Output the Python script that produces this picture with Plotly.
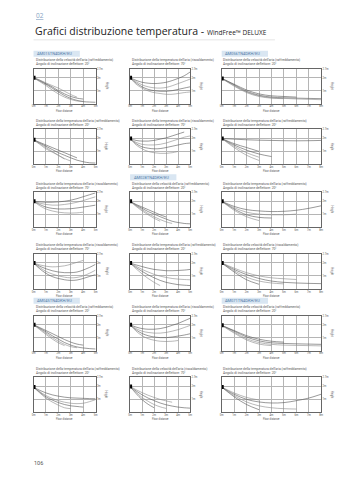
import plotly.graph_objects as go

W, H = 339, 480

# ---------------- data ----------------
X5 = [0, 0.5, 1, 1.5, 2, 2.5, 3, 3.5, 4, 4.5, 5]
X8 = [0, 1, 2, 3, 4, 5, 6, 7, 8]
N = None

TITLE_VEL_COOL = ["Distribuzione della velocità dell'aria (raffreddamento)", "Angolo di inclinazione deflettore: 20°"]
TITLE_TMP_COOL = ["Distribuzione della temperatura dell'aria (raffreddamento)", "Angolo di inclinazione deflettore: 20°"]
TITLE_VEL_HEAT = ["Distribuzione della velocità dell'aria (riscaldamento)", "Angolo di inclinazione deflettore: 70°"]
TITLE_TMP_HEAT = ["Distribuzione della temperatura dell'aria (riscaldamento)", "Angolo di inclinazione deflettore: 70°"]

CHART_TITLES = [
    TITLE_VEL_COOL, TITLE_TMP_HEAT, TITLE_VEL_COOL,
    TITLE_TMP_COOL, TITLE_TMP_HEAT, TITLE_TMP_COOL,
    TITLE_TMP_HEAT, TITLE_VEL_COOL, TITLE_TMP_COOL,
    TITLE_TMP_HEAT, TITLE_TMP_COOL, TITLE_VEL_HEAT,
    TITLE_VEL_COOL, TITLE_TMP_HEAT, TITLE_VEL_COOL,
    TITLE_TMP_COOL, TITLE_VEL_HEAT, TITLE_TMP_COOL,
]
MODEL_LABELS = {0: "AM015TN4DKH/EU", 2: "AM056TN4DKH/EU", 7: "AM028TN4DKH/EU",
                12: "AM045TN4DKH/EU", 14: "AM071TN4DKH/EU"}

OUTLET_Y = [2.0, 2.0, 1.95, 1.9, 2.0, 2.0, 2.0, 2.0, 2.0,
            2.0, 2.0, 2.0, 2.0, 2.0, 1.95, 1.95, 2.0, 1.95]

C01 = [[2.0, 1.75, 1.5, 1.2, 0.9, 0.62, 0.4, 0.25, 0.15, 0.12, 0.1],
       [2.0, 1.7, 1.4, 1.05, 0.75, 0.5, 0.32, 0.2, 0.18, N, N],
       [2.0, 1.8, 1.55, 1.3, 1.0, 0.75, 0.55, 0.42, 0.35, N, N],
       [2.0, 1.82, 1.6, 1.4, 1.2, 0.95, 0.7, 0.5, N, N, N]]
C02 = [[2.0, 1.8, 1.65, 1.58, 1.55, 1.58, 1.65, 1.78, 1.95, 2.15, 2.45],
       [2.0, 1.7, 1.45, 1.3, 1.22, 1.2, 1.25, 1.38, 1.55, 1.72, 1.9],
       [2.0, 1.6, 1.3, 1.1, 1.0, 0.95, 0.95, 1.0, 1.1, 1.2, 1.3],
       [2.0, 1.5, 1.2, 0.98, 0.85, 0.78, 0.72, 0.72, 0.78, 0.85, 0.9]]
C03 = [[1.95, 1.45, 0.95, 0.65, 0.5, 0.45, 0.42, 0.4, 0.38],
       [1.95, 1.4, 0.9, 0.6, 0.45, 0.4, 0.36, 0.33, 0.3],
       [1.95, 1.5, 1.05, 0.75, 0.6, 0.55, 0.5, N, N],
       [1.95, 1.35, 0.85, 0.55, 0.42, 0.38, N, N, N]]
C04 = [[1.9, 1.65, 1.4, 1.15, 0.9, 0.7, 0.5, 0.32, 0.2, 0.12, 0.1],
       [1.9, 1.55, 1.2, 0.95, 0.7, 0.45, 0.25, N, N, N, N],
       [1.9, 1.7, 1.5, 1.3, 1.1, 0.9, 0.7, 0.5, N, N, N],
       [1.9, 1.6, 1.3, 1.0, 0.7, 0.4, N, N, N, N, N]]
C05 = [[2.0, 1.85, 1.8, 1.8, 1.85, 1.95, 2.05, 2.2, 2.35, 2.5, N],
       [2.0, 1.7, 1.55, 1.5, 1.5, 1.55, 1.65, 1.8, 1.95, 2.1, 2.2],
       [2.0, 1.6, 1.35, 1.25, 1.2, 1.22, 1.3, 1.4, 1.5, 1.6, 1.65],
       [2.0, 1.5, 1.2, 1.0, 0.9, 0.85, 0.85, 0.9, 1.0, N, N]]
C06 = [[2.0, 1.95, 1.9, 1.87, 1.85, 1.83, 1.82, 1.83, 1.85],
       [2.0, 1.4, 0.9, 0.55, N, N, N, N, N],
       [2.0, 1.5, 1.1, 0.8, 0.6, N, N, N, N],
       [2.0, 1.3, 0.7, 0.3, N, N, N, N, N],
       [2.0, 1.6, 1.3, 1.0, N, N, N, N, N]]
C07 = [[2.0, 1.95, 1.92, 1.92, 1.95, 2.0, 2.08, 2.2, 2.35, 2.5, 2.65],
       [2.0, 1.85, 1.75, 1.7, 1.7, 1.75, 1.82, 1.92, 2.05, 2.2, 2.35],
       [2.0, 1.75, 1.55, 1.45, 1.4, 1.4, 1.42, 1.48, 1.55, 1.62, 1.7],
       [2.0, 1.65, 1.4, 1.25, 1.15, 1.1, 1.08, 1.1, 1.15, N, N]]
C08 = [[2.0, 1.7, 1.45, 1.2, 1.0, 0.8, 0.62, 0.45, 0.35, 0.28, 0.25],
       [2.0, 1.65, 1.35, 1.05, 0.8, 0.58, 0.4, 0.28, N, N, N],
       [2.0, 1.75, 1.55, 1.35, 1.15, 0.95, 0.78, N, N, N, N],
       [2.0, 1.6, 1.25, 0.95, 0.68, 0.45, N, N, N, N, N]]
C09 = [[2.0, 1.6, 1.35, 1.25, 1.2, 1.22, 1.3, 1.45, 1.65],
       [2.0, 1.5, 1.15, 1.0, 0.95, 0.95, 1.0, N, N],
       [2.0, 1.4, 0.95, 0.75, 0.7, N, N, N, N],
       [2.0, 1.3, 0.8, 0.5, N, N, N, N, N]]
C10 = [[2.0, 1.75, 1.55, 1.4, 1.3, 1.25, 1.25, 1.3, 1.45, 1.65, 1.9],
       [2.0, 1.65, 1.35, 1.15, 1.0, 0.9, 0.85, 0.88, 1.0, 1.2, 1.45],
       [2.0, 1.55, 1.2, 0.95, 0.8, 0.7, 0.65, 0.68, 0.8, 0.95, 1.1],
       [2.0, 1.85, 1.75, 1.7, 1.72, 1.78, 1.9, 2.05, 2.2, N, N]]
C11 = [[2.0, 1.85, 1.72, 1.6, 1.5, 1.45, 1.4, 1.4, 1.42, 1.45, 1.5],
       [2.0, 1.75, 1.5, 1.3, 1.12, 0.98, 0.88, 0.8, 0.75, 0.72, 0.7],
       [2.0, 1.65, 1.35, 1.08, 0.85, 0.65, 0.5, 0.4, 0.32, 0.28, 0.25],
       [2.0, 1.55, 1.15, 0.8, 0.5, 0.25, N, N, N, N, N]]
C12 = [[2.0, 1.5, 1.1, 0.8, 0.6, 0.5, 0.45, 0.42, 0.4],
       [2.0, 1.4, 0.9, 0.6, 0.45, 0.38, N, N, N],
       [2.0, 1.3, 0.7, 0.35, N, N, N, N, N],
       [2.0, 1.6, 1.25, 1.0, 0.85, 0.78, 0.72, N, N]]
C13 = [[2.0, 1.72, 1.45, 1.15, 0.88, 0.62, 0.42, 0.28, 0.2, 0.15, 0.12],
       [2.0, 1.68, 1.35, 1.02, 0.72, 0.48, 0.3, 0.22, N, N, N],
       [2.0, 1.78, 1.55, 1.32, 1.08, 0.85, 0.65, 0.5, 0.42, N, N],
       [2.0, 1.62, 1.25, 0.9, 0.6, 0.38, N, N, N, N, N]]
C14 = [[2.0, 1.82, 1.7, 1.65, 1.65, 1.7, 1.8, 1.95, 2.1, 2.3, 2.5],
       [2.0, 1.7, 1.5, 1.4, 1.35, 1.35, 1.4, 1.5, 1.62, 1.78, 1.95],
       [2.0, 1.6, 1.32, 1.15, 1.05, 1.0, 1.0, 1.05, 1.12, 1.2, 1.3],
       [2.0, 1.5, 1.15, 0.92, 0.8, 0.72, 0.7, 0.72, 0.78, N, N]]
C15 = [[1.95, 1.5, 1.05, 0.75, 0.6, 0.55, 0.52, 0.5, 0.48],
       [1.95, 1.42, 0.92, 0.62, 0.48, 0.42, 0.4, 0.38, 0.36],
       [1.95, 1.55, 1.15, 0.88, 0.72, 0.65, N, N, N],
       [1.95, 1.35, 0.82, 0.5, 0.38, N, N, N, N]]
C16 = [[1.95, 1.7, 1.5, 1.35, 1.25, 1.17, 1.12, 1.1, 1.08, 1.06, 1.05],
       [1.95, 1.6, 1.3, 1.08, 0.9, 0.78, 0.7, 0.67, 0.7, 0.82, 0.98],
       [1.95, 1.55, 1.2, 0.95, 0.75, 0.6, 0.5, 0.45, 0.4, N, N],
       [1.95, 1.5, 1.1, 0.8, 0.55, 0.35, 0.28, N, N, N, N]]
C17 = [[2.0, 1.65, 1.35, 1.1, 0.9, 0.72, 0.58, 0.48, 0.4, 0.35, 0.32],
       [2.0, 1.55, 1.15, 0.85, 0.6, 0.42, 0.3, N, N, N, N],
       [2.0, 1.45, 0.98, 0.62, 0.35, N, N, N, N, N, N],
       [2.0, 1.75, 1.52, 1.32, 1.15, 1.0, 0.88, 0.78, N, N, N]]
C18 = [[1.95, 1.4, 1.0, 0.8, 0.72, 0.75, 0.9, 1.1, 1.4],
       [1.95, 1.3, 0.8, 0.5, 0.35, 0.28, 0.25, N, N],
       [1.95, 1.2, 0.6, 0.2, N, N, N, N, N],
       [1.95, 1.5, 1.15, 0.95, N, N, N, N, N]]

CURVES = [C01, C02, C03, C04, C05, C06, C07, C08, C09,
          C10, C11, C12, C13, C14, C15, C16, C17, C18]

X_TICKS5 = ["0m", "1m", "2m", "3m", "4m", "5m"]
X_TICKS8 = ["0m", "1m", "2m", "3m", "4m", "5m", "6m", "7m", "8m"]
Y_TICKVALS = [1, 2, 2.7]
Y_TICKTEXT = ["1m", "2m", "2.7m"]

# ---------------- layout geometry (pixels) ----------------
COLS = [(32, 95), (130, 191), (223, 324)]
ROW_TOPS = [67, 128, 191, 253, 315, 377]
PH = 35


def px(x):
    return x / W


def py(y):
    return 1 - y / H


fig = go.Figure()
annotations = []
shapes = []
FONT = "Roboto"

for i in range(18):
    r, c = divmod(i, 3)
    x0, x1 = COLS[c]
    y0 = ROW_TOPS[r]
    y1 = y0 + PH
    n = i + 1
    xs = "" if n == 1 else str(n)
    is8 = (c == 2)
    X = X8 if is8 else X5
    xmax = 8 if is8 else 5

    for k, ys in enumerate(CURVES[i]):
        fig.add_trace(go.Scatter(
            x=X, y=ys, mode="lines", xaxis="x" + xs, yaxis="y" + xs,
            line=dict(color="#555555" if k % 2 == 0 else "#8a8a8a", width=0.6, shape="spline"),
            connectgaps=False, showlegend=False, hoverinfo="skip"))
    fig.add_trace(go.Scatter(
        x=[0], y=[OUTLET_Y[i]], mode="markers", xaxis="x" + xs, yaxis="y" + xs,
        marker=dict(symbol="square", size=4, color="black"),
        showlegend=False, hoverinfo="skip"))

    fig.layout["xaxis" + xs] = dict(
        domain=[px(x0), px(x1)], anchor="y" + xs, range=[0, xmax],
        tickvals=list(range(xmax + 1)), ticktext=X_TICKS8 if is8 else X_TICKS5,
        showgrid=True, gridcolor="#b5b5b5", gridwidth=0.5,
        showline=True, linecolor="#666666", linewidth=0.6, mirror=True,
        zeroline=False, ticks="", tickfont=dict(size=2.6, color="#555", family=FONT),
        fixedrange=True)
    fig.layout["yaxis" + xs] = dict(
        domain=[py(y1), py(y0)], anchor="x" + xs, range=[0, 2.7], side="right",
        tickvals=Y_TICKVALS, ticktext=Y_TICKTEXT,
        showgrid=True, gridcolor="#b5b5b5", gridwidth=0.5,
        showline=True, linecolor="#666666", linewidth=0.6, mirror=True,
        zeroline=False, ticks="", tickfont=dict(size=2.6, color="#555", family=FONT),
        fixedrange=True)

    # chart titles
    tx = 222 if c == 2 else x0
    for j, line in enumerate(CHART_TITLES[i]):
        annotations.append(dict(
            x=px(tx), y=py(y0 - 8.7 + 4 * j), xref="paper", yref="paper",
            text=line, showarrow=False, xanchor="left", yanchor="middle",
            font=dict(size=3.3, color="#555", family=FONT)))
    # axis titles
    annotations.append(dict(
        x=px((x0 + x1) / 2), y=py(y1 + 7), xref="paper", yref="paper",
        text="Floor distance", showarrow=False, xanchor="center", yanchor="middle",
        font=dict(size=2.6, color="#555", family=FONT)))
    annotations.append(dict(
        x=px(x1 + 11), y=py((y0 + y1) / 2), xref="paper", yref="paper",
        text="Height", showarrow=False, xanchor="center", yanchor="middle", textangle=90,
        font=dict(size=2.6, color="#555", family=FONT)))
    # model label
    if i in MODEL_LABELS:
        lx0 = 223 if c == 2 else x0
        shapes.append(dict(type="rect", xref="paper", yref="paper",
                           x0=px(lx0), x1=px(lx0 + 47), y0=py(y0 - 12), y1=py(y0 - 18),
                           fillcolor="#d9e6f2", line=dict(width=0)))
        annotations.append(dict(
            x=px(lx0 + 1.5), y=py(y0 - 15), xref="paper", yref="paper",
            text=MODEL_LABELS[i], showarrow=False, xanchor="left", yanchor="middle",
            font=dict(size=4, color="#4f79a8", family=FONT)))

# header
annotations.append(dict(x=px(32), y=py(14), xref="paper", yref="paper",
                        text="<u>02</u>", showarrow=False, xanchor="left", yanchor="middle",
                        font=dict(size=6.5, color="#86a3c3", family="Open Sans")))
annotations.append(dict(x=px(31), y=py(29), xref="paper", yref="paper",
                        text="Grafici distribuzione temperatura - <span style='font-size:6.5px'>WindFree™ DELUXE</span>",
                        showarrow=False, xanchor="left", yanchor="middle",
                        font=dict(size=10.5, color="#222", family="Open Sans")))
shapes.append(dict(type="line", xref="paper", yref="paper", x0=px(32), x1=px(277),
                   y0=py(38), y1=py(38), line=dict(color="#eeeeee", width=1.5)))
annotations.append(dict(x=px(30), y=py(463), xref="paper", yref="paper",
                        text="106", showarrow=False, xanchor="left", yanchor="middle",
                        font=dict(size=5.5, color="#555", family=FONT)))

fig.update_layout(
    width=W, height=H, margin=dict(l=0, r=0, t=0, b=0),
    paper_bgcolor="white", plot_bgcolor="white",
    annotations=annotations, shapes=shapes, showlegend=False)

fig.write_html("out.html", config={"displayModeBar": False})
